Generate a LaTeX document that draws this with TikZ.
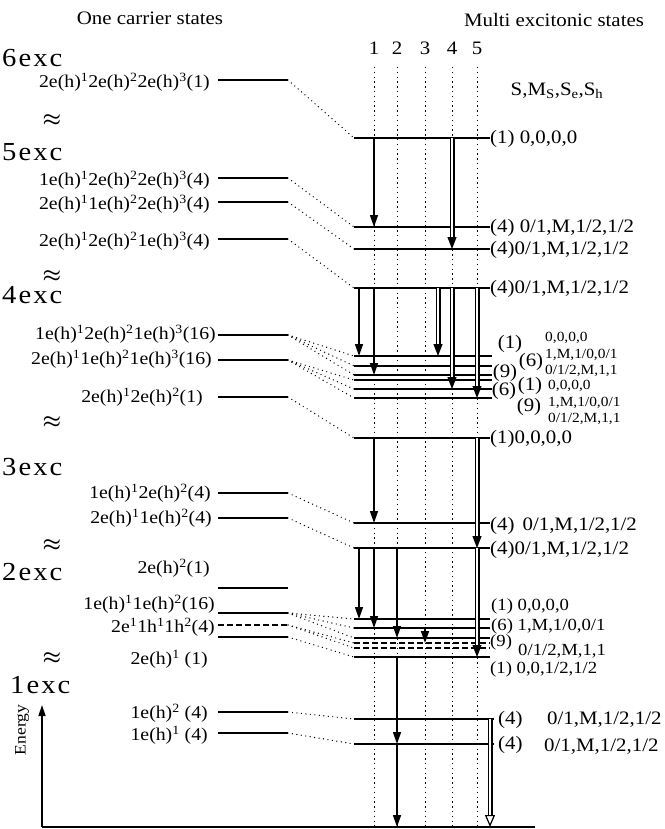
\documentclass[tikz,border=0pt]{standalone}
\usepackage{fontspec}
\setmainfont{Liberation Serif}[FakeStretch=1.1]
\newfontfamily\excfont{Liberation Serif}[FakeStretch=1.1, LetterSpace=8]
\usetikzlibrary{arrows.meta}
\newcommand{\sh}[1]{\textsuperscript{#1}}

\begin{document}
\begin{tikzpicture}[x=1pt, y=-1pt, every node/.style={inner sep=0pt}]
  \tikzset{
    level/.style={line width=1.2pt},
    dashlevel/.style={line width=1.2pt, dash pattern=on 6pt off 3pt},
    link/.style={line width=1.4pt, dash pattern=on 0pt off 4.5pt, line cap=round},
    column/.style={line width=0.9pt, dash pattern=on 1.4pt off 3.4pt},
    decay/.style={line width=1.5pt, -{Triangle[length=12pt, width=8pt]}},
    hollow/.style={double, double distance=2.6pt, line width=1.2pt, -{Triangle[length=12pt, width=9pt]}},
    title/.style={font=\fontsize{19}{21}\selectfont},
    lbl/.style={font=\fontsize{18}{20}\selectfont, anchor=east},
    rlbl/.style={font=\fontsize{19}{21}\selectfont, anchor=west},
    rsmall/.style={font=\fontsize{17}{18}\selectfont, anchor=west},
    small/.style={font=\fontsize{14}{16}\selectfont, anchor=west},
    exc/.style={font=\excfont\fontsize{26}{28}\selectfont, anchor=west},
    gap/.style={font=\fontsize{22}{22}\selectfont\boldmath}
  }
  \useasboundingbox (0,0) rectangle (664,829);

  % titles
  \node[title] (onecarrier) at (150,18) {One carrier states};
  \node[title] (multiexc) at (554,20) {Multi excitonic states};
  \node[rlbl, anchor=center] (spins) at (557,91) {S,M\textsubscript{S},S\textsubscript{e},S\textsubscript{h}};

  % columns
  \foreach \n/\cx in {1/374, 2/397, 3/425, 4/452, 5/477} {
    \node[title] (n\n) at (\cx,48) {\n};
    \draw[column] (\cx,67) coordinate (c\n) -- (\cx,827);
  }
  \coordinate (sa) at (359,0);
  \coordinate (sb) at (438,0);
  \coordinate (sc) at (490,0);

  % energy axis
  \coordinate (origin) at (42,827);
  \coordinate (etip) at (42,705);
  \coordinate (xend) at (535,827);
  \draw[line width=1.5pt, -{Triangle[length=11pt, width=7pt]}] (origin) -- (etip);
  \draw[line width=1.2pt] (origin) -- (xend);
  \node[font=\fontsize{16}{18}\selectfont, rotate=90] (energy) at (22,730) {Energy};

  % excitation numbers
  \node[exc] (x6) at (2,58) {6exc};
  \node[exc] (x5) at (2,152) {5exc};
  \node[exc] (x4) at (2,295) {4exc};
  \node[exc] (x3) at (2,467) {3exc};
  \node[exc] (x2) at (2,572) {2exc};
  \node[exc] (x1) at (10,685) {1exc};
  \foreach \gy in {120, 276, 422, 545, 658}
    \node[gap] at (52,\gy) {$\approx$};

  % one carrier levels
  \foreach \nm/\ly in {L6/80, L5a/178, L5b/202, L5c/239, L4a/335, L4b/360, L4c/397,
                       L3a/493, L3b/518, L2a/588, L2b/613, L2d/637, L1a/712, L1b/733}
    \draw[level] (218,\ly) -- (288,\ly) coordinate (\nm);
  \draw[dashlevel] (218,625) -- (288,625) coordinate (L2c);

  \node[lbl] (t6) at (210,82) {2e(h)\sh{1}2e(h)\sh{2}2e(h)\sh{3}(1)};
  \node[lbl] (t5a) at (210,180) {1e(h)\sh{1}2e(h)\sh{2}2e(h)\sh{3}(4)};
  \node[lbl] (t5b) at (210,204) {2e(h)\sh{1}1e(h)\sh{2}2e(h)\sh{3}(4)};
  \node[lbl] (t5c) at (210,241) {2e(h)\sh{1}2e(h)\sh{2}1e(h)\sh{3}(4)};
  \node[lbl] (t4a) at (216,334) {1e(h)\sh{1}2e(h)\sh{2}1e(h)\sh{3}(16)};
  \node[lbl] (t4b) at (212,359) {2e(h)\sh{1}1e(h)\sh{2}1e(h)\sh{3}(16)};
  \node[lbl] (t4c) at (203,397) {2e(h)\sh{1}2e(h)\sh{2}(1)};
  \node[lbl] (t3a) at (211,493) {1e(h)\sh{1}2e(h)\sh{2}(4)};
  \node[lbl] (t3b) at (212,518) {2e(h)\sh{1}1e(h)\sh{2}(4)};
  \node[lbl] (t2a) at (210,568) {2e(h)\sh{2}(1)};
  \node[lbl] (t2b) at (215,604) {1e(h)\sh{1}1e(h)\sh{2}(16)};
  \node[lbl] (t2c) at (215,627) {2e\sh{1}1h\sh{1}1h\sh{2}(4)};
  \node[lbl] (t2d) at (208,659) {2e(h)\sh{1} (1)};
  \node[lbl] (t1a) at (208,713) {1e(h)\sh{2} (4)};
  \node[lbl] (t1b) at (208,735) {1e(h)\sh{1} (4)};

  % multi excitonic levels
  \foreach \nm/\ry/\rx in {R6/138/490, R5a/227/490, R5b/249/490, R4/288/490,
                           Q1/356/492, Q2/366/492, Q3/375/492, Q4/380/492, Q5/389/492, Q6/398/492,
                           R4b/438/490, R3a/523/490, R3b/548/490,
                           P1/619/490, P2/628/490, P3/638/490, P6/657/490,
                           R1a/719/494, R1b/744/494}
    \draw[level] (354,\ry) coordinate (\nm) -- (\rx,\ry);
  \draw[dashlevel] (354,643) coordinate (P4) -- (490,643);
  \draw[dashlevel] (354,648) coordinate (P5) -- (490,648);

  \node[rlbl] (m6) at (490,139) {(1) 0,0,0,0};
  \node[rlbl] (m5a) at (490,228) {(4) 0/1,M,1/2,1/2};
  \node[rlbl] (m5b) at (490,250) {(4)0/1,M,1/2,1/2};
  \node[rlbl] (m4) at (490,289) {(4)0/1,M,1/2,1/2};
  \node[rlbl, anchor=center] (q1) at (510,344) {(1)};
  \node[rlbl, anchor=center] (q2) at (531,362) {(6)};
  \node[rlbl, anchor=center] (q3) at (505,373) {(9)};
  \node[rlbl, anchor=center] (q4) at (504,391) {(6)};
  \node[rlbl, anchor=center] (q5) at (530,386) {(1)};
  \node[rlbl, anchor=center] (q6) at (529,407) {(9)};
  \node[small] (s1) at (545,338) {0,0,0,0};
  \node[small] (s2) at (545,355) {1,M,1/0,0/1};
  \node[small] (s3) at (545,371) {0/1/2,M,1,1};
  \node[small] (s4) at (548,386) {0,0,0,0};
  \node[small] (s5) at (548,403) {1,M,1/0,0/1};
  \node[small] (s6) at (548,419) {0/1/2,M,1,1};
  \node[rlbl] (m4b) at (490,439) {(1)0,0,0,0};
  \node[rlbl] (m3a) at (490,526) {(4)\hspace{8pt}0/1,M,1/2,1/2};
  \node[rlbl] (m3b) at (490,550) {(4)0/1,M,1/2,1/2};
  \node[rsmall] (p1) at (491,606) {(1) 0,0,0,0};
  \node[rsmall] (p2) at (491,626) {(6) 1,M,1/0,0/1};
  \node[rsmall] (p4) at (490,642) {(9)};
  \node[rsmall] (p5) at (518,651) {0/1/2,M,1,1};
  \node[rsmall] (p6) at (490,669) {(1) 0,0,1/2,1/2};
  \node[rlbl] (m1a) at (498,720) {(4)};
  \node[rlbl] (v1a) at (547,720) {0/1,M,1/2,1/2};
  \node[rlbl] (m1b) at (498,745) {(4)};
  \node[rlbl] (v1b) at (544,747) {0/1,M,1/2,1/2};

  % correlations
  \foreach \a/\b in {L6/R6, L5a/R5a, L5b/R5b, L5c/R4,
                     L4a/Q1, L4a/Q2, L4a/Q3, L4b/Q4, L4b/Q5, L4b/Q6, L4c/R4b,
                     L3a/R3a, L3b/R3b,
                     L2b/P1, L2b/P2, L2b/P3, L2c/P4, L2c/P5, L2d/P6,
                     L1a/R1a, L1b/R1b}
    \draw[link] (\a) -- (\b);

  % transitions
  \draw[decay] (c1 |- R6) -- (c1 |- R5a);
  \draw[hollow] (c4 |- R6) -- (c4 |- R5b);
  \draw[decay] (sa |- R4) -- (sa |- Q1);
  \draw[decay] (c1 |- R4) -- (c1 |- Q3);
  \draw[hollow] (sb |- R4) -- (sb |- Q1);
  \draw[hollow] (c4 |- R4) -- (c4 |- Q5);
  \draw[hollow] (c5 |- R4) -- (c5 |- Q6);
  \draw[decay] (c1 |- R4b) -- (c1 |- R3a);
  \draw[hollow] (c5 |- R4b) -- (c5 |- R3b);
  \draw[decay] (sa |- R3b) -- (sa |- P1);
  \draw[decay] (c1 |- R3b) -- (c1 |- P2);
  \draw[decay] (c2 |- R3b) -- (c2 |- P3);
  \draw[decay] (c3 |- P2) -- (c3 |- P4);
  \draw[hollow] (c5 |- R3b) -- (c5 |- P6);
  \draw[decay] (c2 |- P6) -- (c2 |- R1b);
  \draw[decay] (c2 |- R1b) -- (c2 |- origin);
  \draw[double, double distance=2.6pt, line width=1.2pt,
        -{Triangle[open, length=12pt, width=10pt, fill=white]}] (sc |- R1a) -- (sc |- origin);
\end{tikzpicture}
\end{document}
